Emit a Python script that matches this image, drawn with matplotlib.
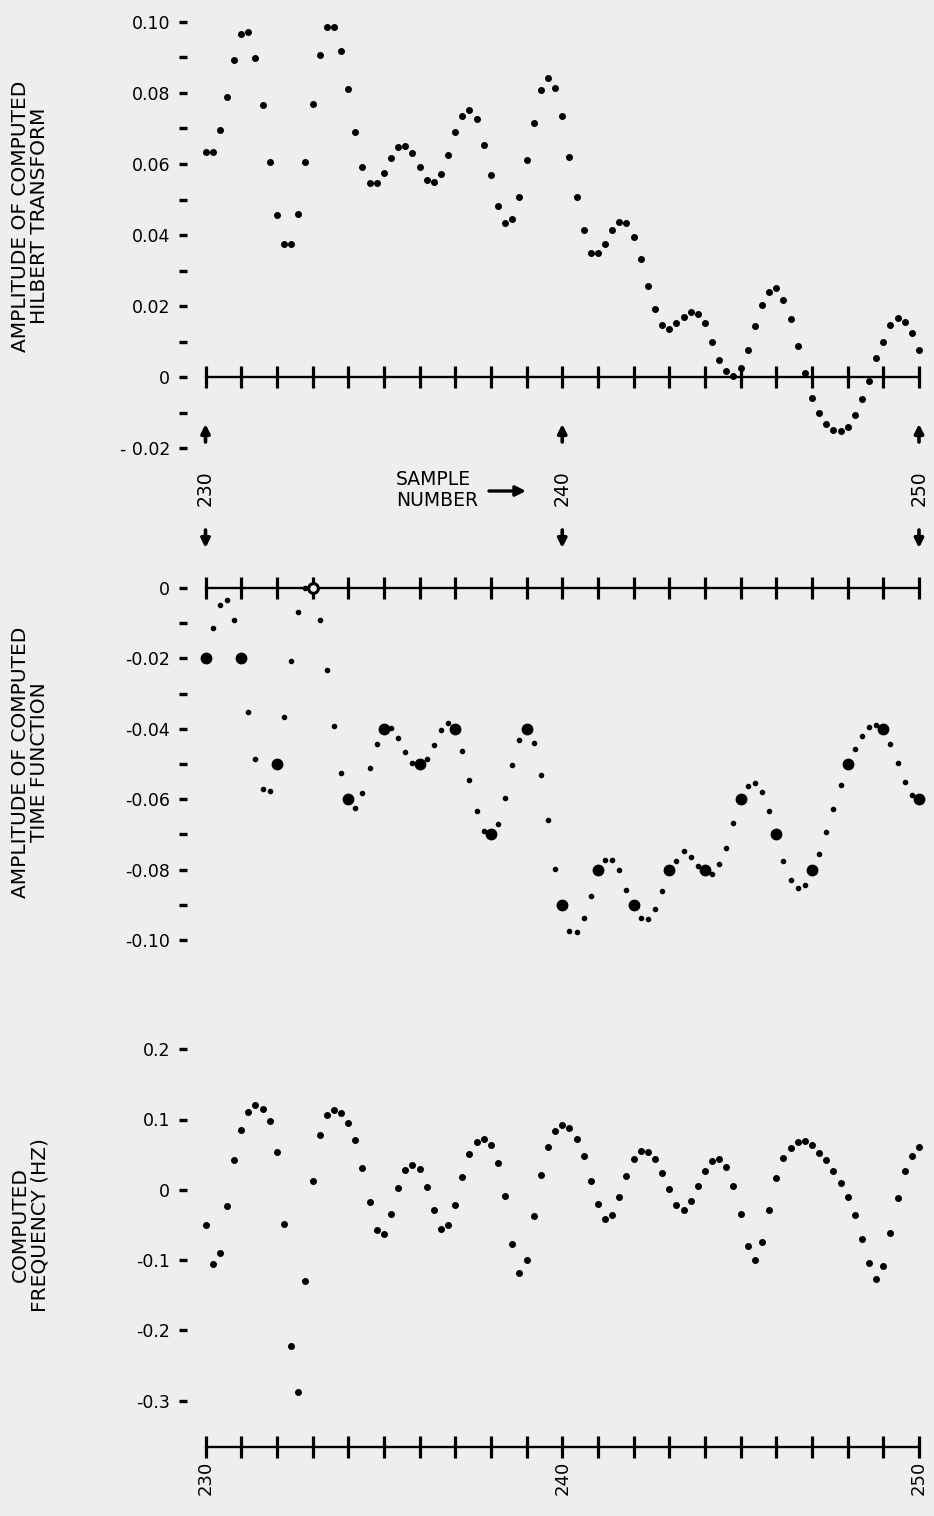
import numpy as np
import matplotlib
matplotlib.use("Agg")
import matplotlib.pyplot as plt

plt.rcParams['font.family'] = ['DejaVu Sans']

# sample axis: 230..250, five computed points per sample interval
samples = np.arange(230, 251)
fine_x = np.linspace(230, 250, 101)

# amplitude of computed Hilbert transform
hilbert = [0.0634, 0.0634, 0.0696, 0.0790, 0.0893, 0.0966, 0.0973, 0.0899, 0.0765, 0.0605,
           0.0455, 0.0374, 0.0374, 0.0458, 0.0606, 0.0769, 0.0906, 0.0986, 0.0987, 0.0919,
           0.0811, 0.0689, 0.0592, 0.0547, 0.0546, 0.0575, 0.0618, 0.0647, 0.0652, 0.0630,
           0.0592, 0.0555, 0.0549, 0.0572, 0.0626, 0.0690, 0.0735, 0.0753, 0.0728, 0.0654,
           0.0569, 0.0483, 0.0435, 0.0444, 0.0506, 0.0610, 0.0716, 0.0808, 0.0841, 0.0815,
           0.0736, 0.0619, 0.0506, 0.0414, 0.0350, 0.0350, 0.0375, 0.0414, 0.0436, 0.0435,
           0.0395, 0.0332, 0.0256, 0.0192, 0.0146, 0.0136, 0.0152, 0.0170, 0.0183, 0.0178,
           0.0151, 0.0099, 0.0049, 0.0016, 0.0004, 0.0026, 0.0076, 0.0144, 0.0202, 0.0239,
           0.0250, 0.0218, 0.0163, 0.0088, 0.0012, -0.0059, -0.0101, -0.0132, -0.0149, -0.0152,
           -0.0141, -0.0107, -0.0062, -0.0012, 0.0053, 0.0099, 0.0146, 0.0165, 0.0156, 0.0123,
           0.0075]

# amplitude of computed time function (every 5th point is an original sample)
time_fn = [-0.020, -0.0114, -0.0048, -0.0035, -0.0091,
           -0.020, -0.0351, -0.0486, -0.0572, -0.0577,
           -0.050, -0.0366, -0.0207, -0.0067, 0.0000,
           0.000, -0.0090, -0.0234, -0.0391, -0.0526,
           -0.060, -0.0625, -0.0583, -0.0511, -0.0442,
           -0.040, -0.0397, -0.0425, -0.0467, -0.0496,
           -0.050, -0.0485, -0.0446, -0.0404, -0.0384,
           -0.040, -0.0462, -0.0545, -0.0634, -0.0690,
           -0.070, -0.0671, -0.0596, -0.0503, -0.0433,
           -0.040, -0.0441, -0.0531, -0.0659, -0.0798,
           -0.090, -0.0974, -0.0976, -0.0937, -0.0874,
           -0.080, -0.0772, -0.0772, -0.0801, -0.0858,
           -0.090, -0.0938, -0.0940, -0.0911, -0.0860,
           -0.080, -0.0775, -0.0746, -0.0764, -0.0790,
           -0.080, -0.0812, -0.0785, -0.0739, -0.0668,
           -0.060, -0.0562, -0.0554, -0.0579, -0.0634,
           -0.070, -0.0776, -0.0830, -0.0852, -0.0844,
           -0.080, -0.0757, -0.0692, -0.0629, -0.0560,
           -0.050, -0.0457, -0.0420, -0.0394, -0.0389,
           -0.040, -0.0442, -0.0496, -0.0552, -0.0588,
           -0.060]
open_sample = 233  # drawn as an open circle

# computed frequency (Hz)
freq = [-0.0506, -0.1053, -0.0905, -0.0228, 0.0418, 0.0845, 0.1110, 0.1209, 0.1152, 0.0982,
        0.0536, -0.0484, -0.2223, -0.2878, -0.1294, 0.0119, 0.0774, 0.1058, 0.1134, 0.1095,
        0.0949, 0.0703, 0.0304, -0.0179, -0.0578, -0.0634, -0.0346, 0.0028, 0.0284, 0.0356,
        0.0299, 0.0038, -0.0289, -0.0563, -0.0506, -0.0213, 0.0181, 0.0508, 0.0679, 0.0717,
        0.0632, 0.0376, -0.0094, -0.0772, -0.1189, -0.1000, -0.0370, 0.0205, 0.0607, 0.0831,
        0.0916, 0.0873, 0.0721, 0.0479, 0.0128, -0.0203, -0.0421, -0.0364, -0.0100, 0.0195,
        0.0432, 0.0546, 0.0541, 0.0437, 0.0238, 0.0006, -0.0213, -0.0284, -0.0161, 0.0057,
        0.0270, 0.0408, 0.0432, 0.0319, 0.0057, -0.0350, -0.0801, -0.0996, -0.0748, -0.0284,
        0.0162, 0.0447, 0.0597, 0.0674, 0.0693, 0.0632, 0.0526, 0.0422, 0.0262, 0.0100,
        -0.0100, -0.0360, -0.0706, -0.1047, -0.1266, -0.1081, -0.0616, -0.0118, 0.0270, 0.0484,
        0.0607]

top_ticks = [-0.02, 0, 0.02, 0.04, 0.06, 0.08, 0.10]
top_labels = ['- 0.02', '0', '0.02', '0.04', '0.06', '0.08', '0.10']
mid_ticks = [-0.10, -0.08, -0.06, -0.04, -0.02, 0]
mid_labels = ['-0.10', '-0.08', '-0.06', '-0.04', '-0.02', '0']
bot_ticks = [-0.3, -0.2, -0.1, 0, 0.1, 0.2]
bot_labels = ['-0.3', '-0.2', '-0.1', '0', '0.1', '0.2']
marked = [230, 240, 250]

W, H = 934, 1516
BG = '#eeeeee'
X0, X1 = 205.5, 919.0          # pixel columns of samples 230 and 250
LEFT, RIGHT = 187, 930

fig = plt.figure(figsize=(W / 100, H / 100), dpi=100, facecolor=BG)


def make_axes(ref_a, ref_b, ylim_px):
    (va, pa), (vb, pb) = ref_a, ref_b
    k = (pa - pb) / (vb - va)
    ylo = va - (ylim_px[1] - pa) / k
    yhi = va - (ylim_px[0] - pa) / k
    sx = (X1 - X0) / 20
    ax = fig.add_axes([LEFT / W, 1 - ylim_px[1] / H, (RIGHT - LEFT) / W,
                       (ylim_px[1] - ylim_px[0]) / H])
    ax.set_facecolor('none')
    ax.set_xlim(230 + (LEFT - X0) / sx, 230 + (RIGHT - X0) / sx)
    ax.set_ylim(ylo, yhi)
    for s in ['top', 'right', 'left']:
        ax.spines[s].set_visible(False)
    ax.tick_params(axis='y', direction='out', length=6, width=2.4, pad=6, labelsize=12.5)
    ax.tick_params(axis='x', direction='inout', length=16, width=2.3, labelsize=13)
    ax.set_xticks(samples)
    ax.spines['bottom'].set_linewidth(1.7)
    ax.spines['bottom'].set_bounds(230, 250)
    return ax


# top panel: Hilbert transform
ax1 = make_axes((0.10, 22), (0.0, 377), (8, 460))
ax1.spines['bottom'].set_position(('data', 0))
ax1.tick_params(axis='x', labelbottom=False)
ax1.set_yticks(top_ticks, top_labels)
ax1.set_yticks(np.arange(-0.01, 0.1, 0.02), minor=True)
ax1.tick_params(axis='y', which='minor', length=6, width=2.4)
ax1.plot(fine_x, hilbert, 'o', color='k', ms=4.0, ls='none')

# middle panel: time function
ax2 = make_axes((0.0, 588), (-0.10, 940), (570, 955))
ax2.spines['bottom'].set_position(('data', 0))
ax2.tick_params(axis='x', labelbottom=False)
ax2.set_yticks(mid_ticks, mid_labels)
ax2.set_yticks(np.arange(-0.09, 0, 0.02), minor=True)
ax2.tick_params(axis='y', which='minor', length=6, width=2.4)
tf = np.array(time_fn)
is_sample = np.arange(len(tf)) % 5 == 0
ax2.plot(fine_x[~is_sample], tf[~is_sample], 'o', color='k', ms=3.0, ls='none')
solid = is_sample & (fine_x != open_sample)
ax2.plot(fine_x[solid], tf[solid], 'o', color='k', ms=7.5, ls='none')
hollow = fine_x == open_sample
ax2.plot(fine_x[hollow], tf[hollow], 'o', mfc=BG, mec='k', mew=2.2, ms=7, ls='none', zorder=5)

# bottom panel: computed frequency
ax3 = make_axes((0.1, 1119.5), (-0.1, 1260.0), (1040, 1447))
ax3.set_yticks(bot_ticks, bot_labels)
ax3.set_xticks(samples, [str(s) if s in marked else '' for s in samples], rotation=90)
ax3.tick_params(axis='x', pad=2)
ax3.plot(fine_x, freq, 'o', color='k', ms=4.0, ls='none')

# y-axis titles
title_kw = dict(rotation=90, ha='center', va='center', multialignment='center',
                fontsize=14.5, linespacing=1.0)
fig.text(30 / W, 1 - 216 / H, 'AMPLITUDE OF COMPUTED\nHILBERT TRANSFORM', **title_kw)
fig.text(30 / W, 1 - 762 / H, 'AMPLITUDE OF COMPUTED\nTIME FUNCTION', **title_kw)
fig.text(30 / W, 1 - 1225 / H, 'COMPUTED\nFREQUENCY (HZ)', **title_kw)

# sample-number markers between the top two panels
arrow_kw = dict(arrowstyle='-|>', lw=2.6, color='k', mutation_scale=13, shrinkA=0, shrinkB=0)
for s in marked:
    px = X0 + (s - 230) * (X1 - X0) / 20
    fx = px / W
    fig.text(fx, 1 - 488 / H, str(s), rotation=90, ha='center', va='center', fontsize=13.5)
    ax1.annotate('', xy=(fx, 1 - 424 / H), xytext=(fx, 1 - 442 / H),
                 xycoords='figure fraction', textcoords='figure fraction',
                 arrowprops=arrow_kw)
    ax1.annotate('', xy=(fx, 1 - 548 / H), xytext=(fx, 1 - 530 / H),
                 xycoords='figure fraction', textcoords='figure fraction',
                 arrowprops=arrow_kw)

fig.text(396 / W, 1 - 490 / H, 'SAMPLE\nNUMBER', ha='left', va='center', fontsize=13.5,
         linespacing=1.15)
ax1.annotate('', xy=(526 / W, 1 - 491 / H), xytext=(489 / W, 1 - 491 / H),
             xycoords='figure fraction', textcoords='figure fraction',
             arrowprops=dict(arrowstyle='-|>', lw=2.4, color='k', mutation_scale=15,
                             shrinkA=0, shrinkB=0))

fig.savefig('out.png', dpi=100, facecolor=BG)
